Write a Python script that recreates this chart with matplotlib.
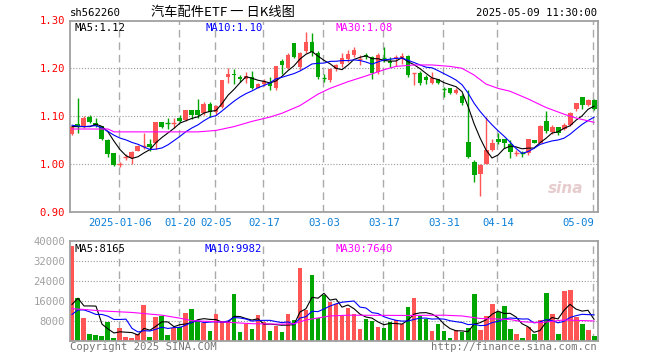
import numpy as np
import pandas as pd
import matplotlib
matplotlib.use('Agg')
import matplotlib.pyplot as plt

# daily K data (trading-day index 0..87)
opens = [1.063, 1.083, 1.077, 1.099, 1.085, 1.079, 1.050, 1.022, 0.999, 1.014,
         1.013, 1.028, 1.037, 1.041, 1.043, 1.088, 1.086, 1.085, 1.096, 1.092,
         1.113, 1.113, 1.106, 1.125, 1.109, 1.118, 1.181, 1.189, 1.181, 1.177,
         1.181, 1.159, 1.167, 1.171, 1.158, 1.216, 1.201, 1.252, 1.203, 1.236,
         1.255, 1.233, 1.180, 1.175, 1.198, 1.209, 1.219, 1.228, 1.219, 1.228,
         1.223, 1.193, 1.222, 1.215, 1.221, 1.219, 1.226, 1.189, 1.191, 1.182,
         1.170, 1.177, 1.158, 1.159, 1.149, 1.142, 1.046, 1.003, 0.979, 1.000,
         1.030, 1.053, 1.052, 1.041, 1.021, 1.024, 1.022, 1.050, 1.044, 1.090,
         1.067, 1.078, 1.073, 1.081, 1.114, 1.139, 1.123, 1.134]
closes = [1.077, 1.077, 1.095, 1.088, 1.079, 1.053, 1.020, 0.998, 1.000, 1.015,
          1.024, 1.038, 1.038, 1.035, 1.088, 1.078, 1.085, 1.086, 1.090, 1.113,
          1.102, 1.102, 1.125, 1.108, 1.121, 1.175, 1.189, 1.186, 1.178, 1.184,
          1.159, 1.168, 1.174, 1.162, 1.205, 1.207, 1.228, 1.224, 1.233, 1.255,
          1.235, 1.181, 1.179, 1.198, 1.207, 1.221, 1.229, 1.238, 1.220, 1.223,
          1.191, 1.228, 1.221, 1.212, 1.224, 1.226, 1.186, 1.190, 1.170, 1.175,
          1.179, 1.169, 1.157, 1.148, 1.155, 1.127, 1.015, 0.977, 0.998, 1.029,
          1.043, 1.046, 1.043, 1.024, 1.022, 1.023, 1.053, 1.044, 1.079, 1.069,
          1.078, 1.065, 1.081, 1.106, 1.127, 1.123, 1.134, 1.114]
highs = [1.079, 1.138, 1.101, 1.102, 1.096, 1.080, 1.053, 1.023, 1.005, 1.020,
         1.026, 1.040, 1.065, 1.053, 1.088, 1.088, 1.095, 1.095, 1.102, 1.113,
         1.113, 1.135, 1.130, 1.130, 1.123, 1.175, 1.201, 1.198, 1.186, 1.193,
         1.195, 1.170, 1.177, 1.181, 1.205, 1.219, 1.231, 1.252, 1.235, 1.276,
         1.273, 1.236, 1.189, 1.200, 1.210, 1.231, 1.238, 1.245, 1.228, 1.233,
         1.226, 1.231, 1.245, 1.224, 1.228, 1.233, 1.228, 1.190, 1.195, 1.186,
         1.193, 1.177, 1.161, 1.159, 1.158, 1.146, 1.155, 1.008, 1.000, 1.099,
         1.053, 1.064, 1.053, 1.050, 1.030, 1.028, 1.053, 1.051, 1.081, 1.110,
         1.081, 1.078, 1.085, 1.109, 1.128, 1.141, 1.135, 1.135]
lows = [1.060, 1.065, 1.075, 1.085, 1.078, 1.051, 1.015, 0.996, 0.993, 1.008,
        1.000, 1.026, 1.032, 1.028, 1.032, 1.075, 1.074, 1.075, 1.088, 1.090,
        1.094, 1.097, 1.102, 1.099, 1.102, 1.116, 1.170, 1.168, 1.172, 1.169,
        1.157, 1.158, 1.164, 1.155, 1.155, 1.189, 1.199, 1.222, 1.196, 1.231,
        1.226, 1.177, 1.172, 1.172, 1.194, 1.203, 1.214, 1.223, 1.207, 1.219,
        1.177, 1.188, 1.214, 1.203, 1.204, 1.210, 1.182, 1.165, 1.166, 1.168,
        1.167, 1.167, 1.139, 1.146, 1.146, 1.123, 1.013, 0.963, 0.933, 1.000,
        1.028, 1.042, 1.034, 1.012, 1.016, 1.015, 1.019, 1.043, 1.043, 1.065,
        1.063, 1.060, 1.071, 1.079, 1.111, 1.114, 1.121, 1.113]
volumes = [37900, 17100, 9200, 2700, 2300, 1900, 7400, 1100, 5100, 1500,
           1100, 2600, 14300, 1500, 9500, 9900, 2300, 4900, 5400, 11100,
           12700, 8000, 6900, 3900, 10700, 7700, 7700, 18700, 3500, 6700,
           4700, 10300, 7500, 3900, 5700, 3500, 10700, 8300, 29200, 12300,
           26300, 8900, 18100, 15600, 14500, 10000, 13200, 10700, 4700, 8700,
           7900, 5500, 5100, 7500, 8300, 6800, 13500, 17100, 10000, 8700,
           3900, 6700, 3900, 1100, 4300, 3600, 5100, 18700, 4300, 10000,
           14700, 11500, 13900, 4700, 2700, 1100, 5600, 2700, 8300, 19100,
           10700, 2700, 19900, 20300, 9600, 6700, 4300, 1900]

tick_idx = [8, 18, 24, 32, 42, 52, 62, 71, 87]
tick_labels = ['2025-01-06', '01-20', '02-05', '02-17', '03-03', '03-17',
               '03-31', '04-14', '05-09']

# moving-average values visible before the window is full
ma5_head = [1.078, 1.078, 1.078, 1.078]
ma10_head = [1.081, 1.079, 1.078, 1.079, 1.080, 1.075, 1.068, 1.060, 1.054]
ma30_idx = [0, 6, 7, 21, 24, 27, 30, 33, 35, 38, 41, 43, 46, 49, 52, 54, 57,
            60, 63, 65, 67, 69, 71, 73, 76, 79, 82, 84, 87]
ma30_val = [1.073, 1.073, 1.067, 1.067, 1.070, 1.078, 1.089, 1.098, 1.106,
            1.122, 1.146, 1.158, 1.172, 1.184, 1.197, 1.204, 1.207, 1.207,
            1.204, 1.200, 1.186, 1.167, 1.158, 1.152, 1.136, 1.118, 1.104,
            1.096, 1.087]
vma5_head = [14500, 17000, 13900, 13900]
vma10_head = [10500, 12300, 12300, 11500, 10500, 10500, 9800, 8500, 8500]
vma30_idx = [0, 2, 5, 10, 15, 18, 20, 25, 30, 35, 37, 39, 43, 46, 55, 62, 65,
             68, 73, 75, 78, 82, 87]
vma30_val = [12800, 12500, 11900, 11300, 10200, 9000, 8000, 7500, 6800, 6600,
             6800, 8300, 9900, 10200, 10100, 10200, 9900, 8900, 8500, 7600,
             7200, 8300, 7900]

RED = '#ff5555'
GREEN = '#00a600'
GRID = '#aaaaaa'
MONO = 'DejaVu Sans Mono'

o = np.array(opens)
c = np.array(closes)
h = np.array(highs)
l = np.array(lows)
v = np.array(volumes)
x = np.arange(len(c))
up = c >= o
colors = np.where(up, RED, GREEN)

ma5 = pd.Series(c).rolling(5).mean().values
ma5[:4] = ma5_head
ma10 = pd.Series(c).rolling(10).mean().values
ma10[:9] = ma10_head
vma5 = pd.Series(v).rolling(5).mean().values
vma5[:4] = vma5_head
vma10 = pd.Series(v).rolling(10).mean().values
vma10[:9] = vma10_head

W, H = 660, 360
fig = plt.figure(figsize=(6.6, 3.6), dpi=100)
fig.patch.set_facecolor('white')

ax1 = fig.add_axes([70 / W, 1 - 211.7 / H, 527.5 / W, 191.2 / H])
ax2 = fig.add_axes([70 / W, 1 - 340.7 / H, 527.5 / W, 100 / H])

xlim = (-0.33, 87.58)
for ax in (ax1, ax2):
    ax.set_xlim(*xlim)
    for s in ax.spines.values():
        s.set_color('#a0a0a0')
        s.set_linewidth(1.3)
    for t in tick_idx:
        ax.axvline(t - 0.2, color=GRID, lw=1.0, ls=(0, (5.5, 3.5)), zorder=0)

# price panel
ax1.set_ylim(0.90, 1.30)
for yv in [1.00, 1.10, 1.20]:
    ax1.axhline(yv, color='#999999', lw=0.8, ls=(0, (1, 1.6)), zorder=0)

bw = 0.83
ax1.vlines(x, l, h, colors=colors, lw=1.0, zorder=2)
body_lo = np.minimum(o, c)
body_hi = np.maximum(o, c)
doji = (body_hi - body_lo) < 0.0015
ax1.bar(x[~doji], (body_hi - body_lo)[~doji], bottom=body_lo[~doji], width=bw,
        color=colors[~doji], linewidth=0, zorder=3)
ax1.hlines(c[doji], x[doji] - bw / 2, x[doji] + bw / 2, colors=colors[doji],
           lw=1.0, zorder=3)

ax1.plot(x, ma5, color='black', lw=0.8, zorder=4)
ax1.plot(x, ma10, color='#0000ff', lw=0.8, zorder=4)
ax1.plot(ma30_idx, ma30_val, color='#ff00ff', lw=0.8, zorder=4)

ax1.set_yticks([0.90, 1.00, 1.10, 1.20, 1.30])
ax1.set_yticklabels(['0.90', '1.00', '1.10', '1.20', '1.30'], color='#ff0000',
                    family=MONO, fontsize=7.6)
ax1.set_xticks(tick_idx)
ax1.set_xticklabels(tick_labels, color='#0a7fd8', family=MONO, fontsize=7.6)
ax1.get_xticklabels()[-1].set_horizontalalignment('right')
ax1.tick_params(axis='both', length=0)
ax1.tick_params(axis='y', pad=3.5)
ax1.tick_params(axis='x', pad=4.5)

ax1.text(0.009, 0.985, 'MA5:1.12', transform=ax1.transAxes, va='top',
         ha='left', family=MONO, fontsize=7.6, color='black')
ax1.text(0.257, 0.985, 'MA10:1.10', transform=ax1.transAxes, va='top',
         ha='left', family=MONO, fontsize=7.6, color='#0000ff')
ax1.text(0.503, 0.985, 'MA30:1.08', transform=ax1.transAxes, va='top',
         ha='left', family=MONO, fontsize=7.6, color='#ff00ff')
ax1.text(0.94, 0.12, 'sina', transform=ax1.transAxes, ha='center',
         va='center', fontsize=11, fontweight='bold', style='italic',
         color='#e6cccc', zorder=1)

# volume panel
ax2.set_ylim(0, 40000)
for yv in [8000, 16000, 24000, 32000]:
    ax2.axhline(yv, color='#999999', lw=0.8, ls=(0, (1, 1.6)), zorder=0)
ax2.bar(x, v, width=bw, color=colors, linewidth=0, zorder=2)
ax2.plot(x, vma5, color='black', lw=0.8, zorder=3)
ax2.plot(x, vma10, color='#0000ff', lw=0.8, zorder=3)
ax2.plot(vma30_idx, vma30_val, color='#ff00ff', lw=0.8, zorder=3)
ax2.set_yticks([8000, 16000, 24000, 32000, 40000])
ax2.set_yticklabels(['8000', '16000', '24000', '32000', '40000'],
                    color='#a0a0a0', family=MONO, fontsize=7.6)
ax2.set_xticks([])
ax2.tick_params(axis='both', length=0)
ax2.tick_params(axis='y', pad=3.5)

ax2.text(0.009, 0.97, 'MA5:8165', transform=ax2.transAxes, va='top',
         ha='left', family=MONO, fontsize=7.6, color='black')
ax2.text(0.255, 0.97, 'MA10:9982', transform=ax2.transAxes, va='top',
         ha='left', family=MONO, fontsize=7.6, color='#0000ff')
ax2.text(0.503, 0.97, 'MA30:7640', transform=ax2.transAxes, va='top',
         ha='left', family=MONO, fontsize=7.6, color='#ff00ff')

# header and footer
fig.text(70 / W, 1 - 13 / H, 'sh562260', ha='left', va='center',
         family=MONO, fontsize=7.6, color='black')
fig.text(223 / W, 1 - 12.5 / H, '汽车配件ETF 一 日K线图', ha='center',
         va='center', family=['Noto Sans CJK SC', 'DejaVu Sans'],
         fontsize=9.5, color='black')
fig.text(597 / W, 1 - 13 / H, '2025-05-09 11:30:00', ha='right',
         va='center', family=MONO, fontsize=7.6, color='black')
fig.text(70 / W, 1 - 346.5 / H, 'Copyright 2025 SINA.COM', ha='left',
         va='center', family=MONO, fontsize=7.6, color='#777777')
fig.text(597 / W, 1 - 346.5 / H, 'http://finance.sina.com.cn', ha='right',
         va='center', family=MONO, fontsize=7.6, color='#777777')

fig.savefig('out.png', dpi=100)
